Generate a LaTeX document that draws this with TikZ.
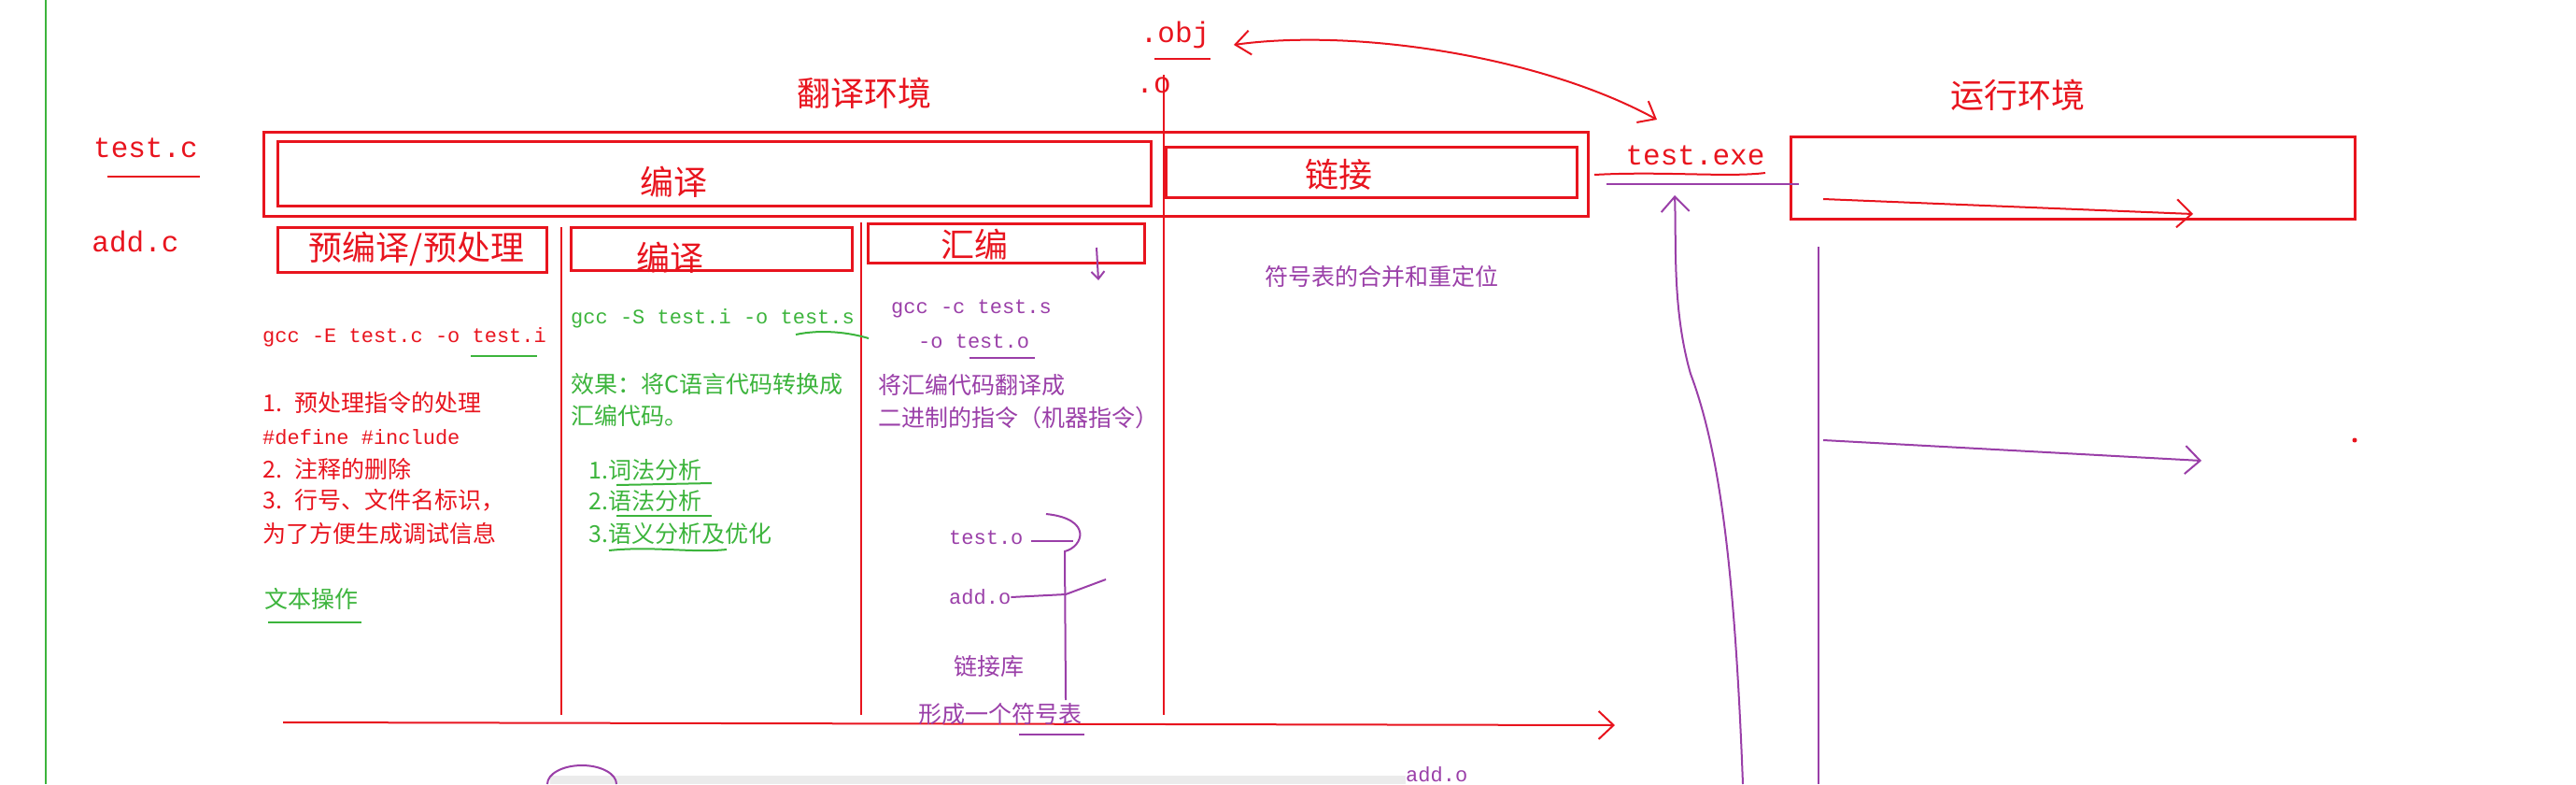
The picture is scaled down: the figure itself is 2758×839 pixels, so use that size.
\documentclass[tikz,border=0pt]{standalone}
\usepackage{fontspec}
\setmainfont{Noto Sans CJK SC}
\newfontfamily\cjk{Noto Sans CJK SC}
\newfontfamily\mono{Liberation Mono}
\usetikzlibrary{arrows.meta}
\definecolor{rd}{HTML}{E8141E}
\definecolor{gr}{HTML}{3CB43C}
\definecolor{pu}{HTML}{9A3FA8}
\begin{document}
\begin{tikzpicture}[x=1pt,y=-1pt,
 box/.style={draw=rd,line width=3pt},
 rl/.style={draw=rd,line width=2pt},
 gl/.style={draw=gr,line width=2pt},
 pl/.style={draw=pu,line width=2pt},
 big/.style={text=rd,font=\cjk\fontsize{36}{40}\selectfont},
 sm/.style={anchor=west,font=\cjk\fontsize{25}{28}\selectfont,inner sep=0pt},
 ms/.style={anchor=west,font=\mono\fontsize{22}{24}\selectfont,inner sep=0pt},
 tip/.style={-{Straight Barb[length=16pt,width=30pt]}}]
\useasboundingbox (0,0) rectangle (2758,839);
\draw[draw=gr,line width=2pt] (49,0) -- (49,839);
% left files
\node[text=rd,font=\mono\fontsize{31}{34}\selectfont] (tc) at (156,158) {test.c};
\draw[rl] (115,189) -- (214,189);
\node[text=rd,font=\mono\fontsize{31}{34}\selectfont] (ac) at (145,258) {add.c};
% titles
\node[big] (t1) at (925,100) {翻译环境};
\node[big] (t2) at (2160,102) {运行环境};
% boxes
\draw[box] (282,141) rectangle (1700,231);
\draw[box] (297,151) rectangle (1232,220);
\node[big] (by) at (721,195) {编译};
\draw[box] (1248,157) rectangle (1688,211);
\node[big] (lj) at (1433,187) {链接};
\draw[box] (297,243) rectangle (585,291);
\node[big] (yb) at (446,266) {预编译/预处理};
\draw[box] (611,243) rectangle (912,289);
\node[big] (by2) at (717,276) {编译};
\draw[box] (929,239) rectangle (1225,281);
\node[big] (hb) at (1043,262) {汇编};
\draw[box] (1917,146) rectangle (2521,234);
% vertical red lines
\draw[rl] (601,243) -- (601,765);
\draw[rl] (922,238) -- (922,765);
\draw[rl] (1246,80) -- (1246,765);
% obj
\node[text=rd,font=\mono\fontsize{31}{34}\selectfont] (obj) at (1258,37) {.obj};
\draw[rl] (1236,63) -- (1296,63);
\node[text=rd,font=\mono\fontsize{31}{34}\selectfont] (o) at (1235,91) {.o};
\node[text=rd,font=\mono\fontsize{31}{34}\selectfont] (exe) at (1815,166) {test.exe};
\draw[rl] (1707,187) .. controls (1780,183) and (1850,190) .. (1890,185);
\draw[pl] (1720,197) -- (1926,197);
\draw[rl,{Straight Barb[length=16pt,width=26pt]}-{Straight Barb[length=16pt,width=26pt]}] (1321,48) .. controls (1450,30) and (1650,60) .. (1774,128);
% runtime arrows
\draw[rl,tip] (1952,213) -- (2348,229);
\draw[pl] (1947,264) -- (1947,839);
\draw[pl,tip] (1952,471) -- (2357,493);
\fill[rd] (2521,471) circle (2.5);
\draw[pl,tip] (1866,839) .. controls (1857,600) and (1840,480) .. (1810,400) .. controls (1790,330) and (1795,260) .. (1793,209);
% bottom arrow
\draw[rl,tip] (303,773) -- (1729,776);
% col1
\node[ms,text=rd] (g1) at (281,361) {gcc -E test.c  -o test.i};
\draw[gl] (504,381) -- (575,381);
\node[sm,text=rd] (a1) at (281,431) {1. \ 预处理指令的处理};
\node[ms,text=rd] (a2) at (281,468) {\#define \#include};
\node[sm,text=rd] (a3) at (281,502) {2. \ 注释的删除};
\node[sm,text=rd] (a4) at (281,535) {3. \ 行号、文件名标识，};
\node[sm,text=rd] (a5) at (281,571) {为了方便生成调试信息};
\node[sm,text=gr] (a6) at (283,641) {文本操作};
\draw[gl] (287,666) -- (387,666);
% col2
\node[ms,text=gr] (g2) at (611,341) {gcc -S test.i -o test.s};
\draw[gl] (852,358) .. controls (880,352) and (910,356) .. (930,362);
\node[sm,text=gr] (b1) at (611,411) {效果：将C语言代码转换成};
\node[sm,text=gr] (b2) at (611,445) {汇编代码。};
\node[sm,text=gr] (b3) at (630,503) {1.词法分析};
\node[sm,text=gr] (b4) at (630,536) {2.语法分析};
\node[sm,text=gr] (b5) at (630,571) {3.语义分析及优化};
\draw[gl] (660,519) -- (762,517);
\draw[gl] (660,552) -- (762,552);
\draw[gl] (652,589) .. controls (700,584) and (740,592) .. (778,588);
% col3
\draw[pl,-{Straight Barb[length=8pt,width=14pt]}] (1174,265) -- (1176,300);
\node[ms,text=pu] (g3) at (954,330) {gcc -c test.s};
\node[ms,text=pu] (g4) at (983,365) {-o test.o};
\draw[pl] (1038,383) -- (1108,383);
\node[sm,text=pu] (c1) at (940,412) {将汇编代码翻译成};
\node[sm,text=pu] (c2) at (940,447) {二进制的指令（机器指令）};
\node[ms,text=pu] (to) at (1016,575) {test.o};
\node[ms,text=pu] (ao) at (1016,639) {add.o};
\draw[pl] (to.east) ++(8,4) -- ++(45,0);
\draw[pl] (1120,550) .. controls (1170,555) and (1160,585) .. (1140,590) -- (1141,749);
\draw[pl] (ao.east) -- (1141,636) -- (1184,620);
\node[sm,text=pu] (c3) at (1021,713) {链接库};
\node[sm,text=pu] (c4) at (983,764) {形成一个符号表};
\draw[pl] (1091,786) -- (1161,786);
\node[sm,text=pu] (c5) at (1354,296) {符号表的合并和重定位};
\node[ms,text=pu] (ao2) at (1505,829) {add.o};
% bottom
\fill[black!8] (589,830) rectangle (1505,839);
\draw[pl] (586,839) arc (180:360:37 and 20);
\end{tikzpicture}
\end{document}
